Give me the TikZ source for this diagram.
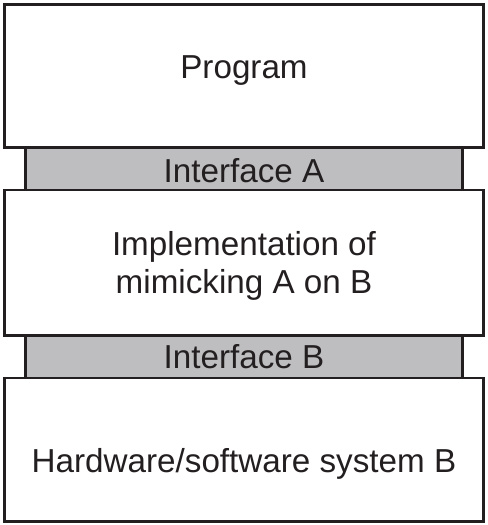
\documentclass[tikz,border=0pt]{standalone}
\usepackage{fontspec}
\setmainfont{Liberation Sans}
\usepackage{xcolor}
\usetikzlibrary{positioning}
\definecolor{ifacegray}{RGB}{190,190,192}
\definecolor{edgeblack}{RGB}{35,31,32}

\begin{document}
\begin{tikzpicture}[
  system/.style={
    rectangle, draw=edgeblack, line width=1.4pt, fill=white,
    minimum width=9.58cm, inner sep=0pt, outer sep=0pt
  },
  interface/.style={
    rectangle, draw=edgeblack, line width=1.4pt, fill=ifacegray,
    minimum width=8.74cm, minimum height=0.85cm, inner sep=0pt, outer sep=0pt
  },
  txt/.style={
    font=\fontsize{18.9}{21.3}\selectfont, text=edgeblack,
    align=center, inner sep=0pt
  }
]
\useasboundingbox (0,0) rectangle (9.76,-10.5);

% Layers
\node[system, minimum height=2.86cm] (program) at (4.88,-1.52) {};
\node[interface, below=0pt of program] (ifaceA) {};
\node[system, minimum height=2.91cm, below=0pt of ifaceA] (mimic) {};
\node[interface, below=0pt of mimic] (ifaceB) {};
\node[system, minimum height=2.87cm, below=0pt of ifaceB] (hwsys) {};

% Texts
\node[txt, anchor=base] (programtxt) at ([yshift=-0.04cm]program.center) {Program};
\node[txt, anchor=base] (ifaceAtxt) at ([yshift=-0.265cm]ifaceA.center) {Interface A};
\node[txt] (mimictxt) at ([yshift=-0.06cm]mimic.center) {Implementation of\\mimicking A on B};
\node[txt, anchor=base] (ifaceBtxt) at ([yshift=-0.235cm]ifaceB.center) {Interface B};
\node[txt, anchor=base] (hwsystxt) at ([yshift=-0.445cm]hwsys.center) {Hardware/software system B};

\end{tikzpicture}
\end{document}
